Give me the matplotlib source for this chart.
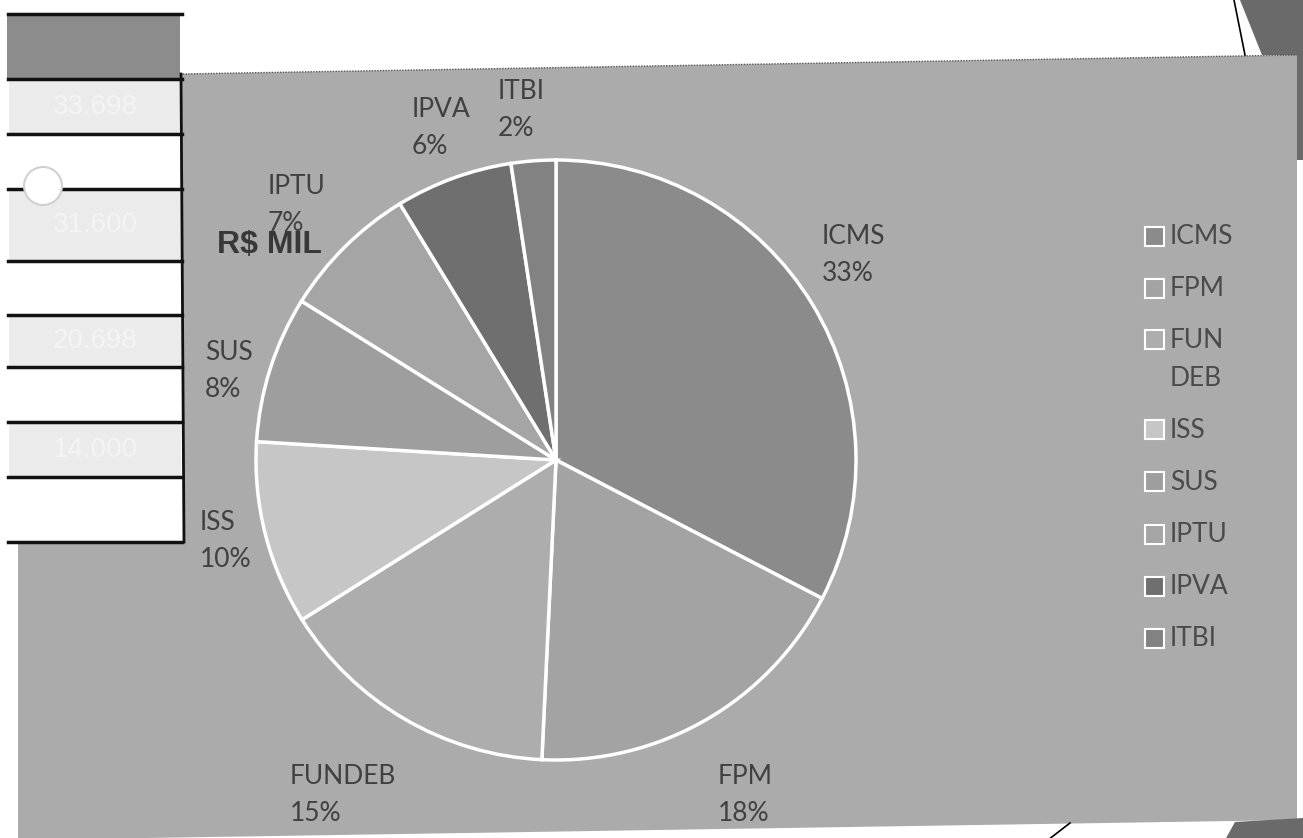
import matplotlib
matplotlib.use("Agg")
import matplotlib.pyplot as plt
from matplotlib.patches import Rectangle, Polygon, Circle

# ---------------- data ----------------
categories = ["ICMS", "FPM", "FUNDEB", "ISS", "SUS", "IPTU", "IPVA", "ITBI"]
legend_labels = ["ICMS", "FPM", "FUN\nDEB", "ISS", "SUS", "IPTU", "IPVA", "ITBI"]
shares = [32.6, 18.1, 15.3, 9.9, 7.9, 7.4, 6.3, 2.4]
colors = ["#8b8b8b", "#a3a3a3", "#adadad", "#c6c6c6",
          "#9e9e9e", "#a5a5a5", "#6f6f6f", "#828282"]
table_values = ["33.698", "31.600", "20.698", "14.000"]
unit_label = "R$ MIL"

W, H = 1303, 838


def Y(y):
    return H - y


fig = plt.figure(figsize=(W / 100, H / 100), dpi=100)
fig.patch.set_facecolor("white")
ax = fig.add_axes([0, 0, 1, 1])

# ---------------- background panel ----------------
panel = Polygon([(180, Y(74)), (1297, Y(55)), (1297, Y(820)), (18, Y(840)),
                 (18, Y(542)), (183, Y(542))], closed=True,
                facecolor="#ababab", edgecolor="none", zorder=0)
ax.add_patch(panel)
ax.plot([180, 1297], [Y(74), Y(55)], color="#555555", lw=1, ls=(0, (1, 1)), zorder=1)

# scanned page edges
ax.add_patch(Polygon([(1240, Y(0)), (1303, Y(0)), (1303, Y(160)), (1297, Y(160)),
                      (1297, Y(55)), (1262, Y(55))], closed=True,
                     facecolor="#6a6a6a", edgecolor="none", zorder=0))
ax.plot([1234, 1245], [Y(0), Y(55)], color="black", lw=1.2, zorder=1)
ax.add_patch(Polygon([(1235, Y(822)), (1303, Y(818)), (1303, Y(840)), (1225, Y(840))],
                     closed=True, facecolor="#6a6a6a", edgecolor="none", zorder=0))
ax.plot([1048, 1070], [Y(840), Y(823)], color="black", lw=1.2, zorder=1)

# ---------------- table remnant on the left ----------------
row_lines = [14, 79, 134, 189, 261, 315, 367, 422, 477, 542]
ax.add_patch(Rectangle((7, Y(79)), 173, 65, facecolor="#8c8c8c", edgecolor="none", zorder=1))
light_rows = [(79, 134), (189, 261), (315, 367), (422, 477)]
for (y0, y1), txt in zip(light_rows, table_values):
    ax.add_patch(Rectangle((9, Y(y1)), 172, y1 - y0, facecolor="#ebebeb",
                           edgecolor="none", zorder=1))
    ax.text(95, Y((y0 + y1) / 2), txt, color="#f4f4f4", fontsize=20,
            ha="center", va="center", family="Liberation Sans", zorder=2)
for yl in row_lines:
    ax.plot([8, 182], [Y(yl), Y(yl)], color="#111111", lw=2.5, zorder=3)
ax.plot([181, 184], [Y(74), Y(542)], color="#111111", lw=2, zorder=3)
ax.add_patch(Circle((43, Y(186)), 19, facecolor="white", edgecolor="#d0d0d0",
                    lw=1.5, zorder=4))

# ---------------- pie ----------------
cx, cy, r = 556, Y(460), 300
wedges, _ = ax.pie(shares, colors=colors, startangle=90, counterclock=False,
                   center=(cx, cy), radius=r,
                   wedgeprops=dict(edgecolor="white", linewidth=2.5))
for w in wedges:
    w.set_zorder(2)

# data labels (name + rounded percent)
label_pos = {
    "ICMS": (822, 224), "FPM": (718, 764), "FUNDEB": (290, 764),
    "ISS": (200, 510), "SUS": (205, 340), "IPTU": (268, 174),
    "IPVA": (412, 97), "ITBI": (498, 79),
}
total = sum(shares)
for name, val in zip(categories, shares):
    x, y = label_pos[name]
    ax.text(x, Y(y), f"{name}\n{round(val / total * 100):.0f}%", color="#404040",
            fontsize=19, family="Lato", ha="left", va="top", linespacing=1.58,
            zorder=5)

ax.text(217, Y(245), unit_label, color="#383838", fontsize=23, fontweight="bold",
        family="Liberation Sans", ha="left", va="center", zorder=6)

# ---------------- legend (manual, one entry per category) ----------------
leg_x, leg_y = 1145, 236
pitch, extra_line = 52, 38
sq = 19
yy = leg_y
for lab, col in zip(legend_labels, colors):
    ax.add_patch(Rectangle((leg_x, Y(yy + sq / 2)), sq, sq, facecolor=col,
                           edgecolor="white", lw=1.5, zorder=5))
    lines = lab.split("\n")
    for k, line in enumerate(lines):
        ax.text(leg_x + sq + 6, Y(yy + k * extra_line), line, color="#4a4a4a",
                fontsize=19, family="Lato", ha="left", va="center", zorder=5)
    yy += pitch + extra_line * (len(lines) - 1)

ax.set_xlim(0, W)
ax.set_ylim(0, H)
ax.set_aspect("equal")
ax.axis("off")

fig.savefig("out.png", dpi=100, facecolor="white")
